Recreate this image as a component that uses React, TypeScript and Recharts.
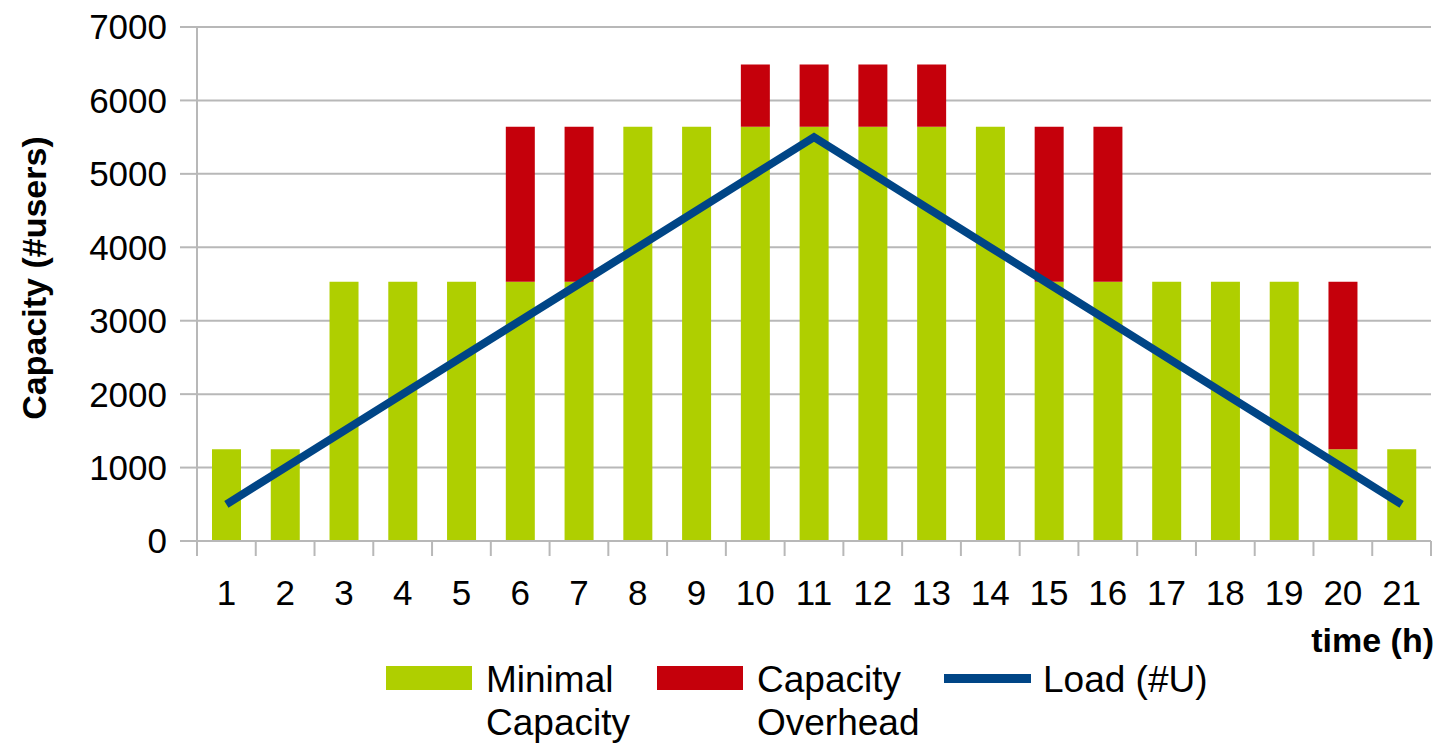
import React from 'react';
import { ComposedChart, Bar, Line, XAxis, YAxis, CartesianGrid } from 'recharts';

const hours = ['1','2','3','4','5','6','7','8','9','10','11','12','13','14','15','16','17','18','19','20','21'];
const minimalCapacity = [1250,1250,3530,3530,3530,3530,3530,5640,5640,5640,5640,5640,5640,5640,3530,3530,3530,3530,3530,1250,1250];
const capacityOverhead = [0,0,0,0,0,2110,2110,0,0,850,850,850,850,0,2110,2110,0,0,0,2280,0];
const load = [500,1000,1500,2000,2500,3000,3500,4000,4500,5000,5500,5000,4500,4000,3500,3000,2500,2000,1500,1000,500];
const yTicks = [0,1000,2000,3000,4000,5000,6000,7000];

const data = hours.map((h, i) => ({
  hour: h,
  minimal: minimalCapacity[i],
  overhead: capacityOverhead[i],
  load: load[i],
}));

const FONT = '"Liberation Sans", Arial, sans-serif';
const GREEN = '#afcf00';
const RED = '#c5000b';
const BLUE = '#004586';
const GRID = '#b8b8b8';

const CHART_W = 1439;
const CHART_H = 745;
const MARGIN = { top: 27, right: 8, left: 0, bottom: 0 };
const Y_W = 197;
const BAND = (CHART_W - MARGIN.right - MARGIN.left - Y_W) / hours.length;

const XTick = (props: any) => {
  const { x, y, payload, index } = props;
  const last = index === hours.length - 1;
  return (
    <g>
      <line x1={x - BAND / 2} y1={y} x2={x - BAND / 2} y2={y + 15} stroke={GRID} strokeWidth={2} />
      {last && <line x1={x + BAND / 2} y1={y} x2={x + BAND / 2} y2={y + 15} stroke={GRID} strokeWidth={2} />}
      <text x={x} y={y + 64} textAnchor="middle" fill="#000" fontSize={35} fontFamily={FONT}>
        {payload.value}
      </text>
    </g>
  );
};

const YLabel = (props: any) => {
  const vb = props.viewBox || { x: 0, y: 27, width: 197, height: 514 };
  const cx = vb.x + 34;
  const cy = vb.y + vb.height / 2 - 6;
  return (
    <text
      x={cx}
      y={cy}
      transform={`rotate(-90 ${cx} ${cy})`}
      textAnchor="middle"
      dominantBaseline="central"
      fontSize={34}
      fontWeight="bold"
      fontFamily={FONT}
      fill="#000"
    >
      Capacity (#users)
    </text>
  );
};

const XLabel = (props: any) => {
  const vb = props.viewBox || { x: 197, y: 541, width: 1234, height: 204 };
  return (
    <text
      x={vb.x + vb.width + 3}
      y={vb.y + 111}
      textAnchor="end"
      fontSize={34}
      fontWeight="bold"
      fontFamily={FONT}
      fill="#000"
    >
      time (h)
    </text>
  );
};

const legendText: React.CSSProperties = {
  position: 'absolute',
  top: 658,
  fontSize: 37,
  lineHeight: '43px',
  fontFamily: FONT,
  color: '#000',
  whiteSpace: 'pre',
};

export default function App() {
  return (
    <div style={{ position: 'absolute', left: 0, top: 0, width: CHART_W, height: CHART_H, background: '#fff' }}>
      <ComposedChart width={CHART_W} height={CHART_H} data={data} margin={MARGIN} barCategoryGap={0}>
        <CartesianGrid vertical={false} stroke={GRID} strokeWidth={2} />
        <XAxis
          dataKey="hour"
          interval={0}
          height={204}
          tickSize={0}
          tickMargin={0}
          tickLine={false}
          axisLine={{ stroke: GRID, strokeWidth: 2 }}
          tick={<XTick />}
          label={{ content: <XLabel /> } as any}
        />
        <YAxis
          width={Y_W}
          domain={[0, 7000]}
          ticks={yTicks}
          interval={0}
          tickSize={17}
          tickMargin={13}
          tickLine={{ stroke: GRID, strokeWidth: 2 }}
          axisLine={{ stroke: GRID, strokeWidth: 2 }}
          tick={{ fill: '#000', fontSize: 35, fontFamily: FONT }}
          label={{ content: <YLabel /> } as any}
        />
        <Bar dataKey="minimal" stackId="cap" fill={GREEN} barSize={29} isAnimationActive={false} />
        <Bar dataKey="overhead" stackId="cap" fill={RED} barSize={29} isAnimationActive={false} />
        <Line
          dataKey="load"
          type="linear"
          stroke={BLUE}
          strokeWidth={8}
          dot={false}
          activeDot={false}
          isAnimationActive={false}
        />
      </ComposedChart>

      <div style={{ position: 'absolute', left: 386, top: 666, width: 86, height: 24, background: GREEN }} />
      <div style={{ ...legendText, left: 486 }}>{'Minimal\nCapacity'}</div>
      <div style={{ position: 'absolute', left: 657, top: 666, width: 86, height: 24, background: RED }} />
      <div style={{ ...legendText, left: 757 }}>{'Capacity\nOverhead'}</div>
      <div style={{ position: 'absolute', left: 944, top: 674, width: 87, height: 9, background: BLUE }} />
      <div style={{ ...legendText, left: 1043 }}>{'Load (#U)'}</div>
    </div>
  );
}
